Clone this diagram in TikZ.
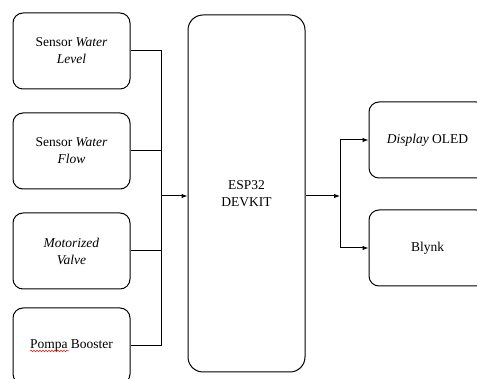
\documentclass[tikz,border=0pt]{standalone}
\usepackage{fontspec}
\setmainfont{Liberation Serif}
\usetikzlibrary{arrows.meta,decorations.pathmorphing}
\begin{document}
\begin{tikzpicture}[x=1pt,y=-1pt,
 box/.style={draw,rounded corners=10pt,line width=1pt,minimum width=117pt,minimum height=76pt,align=center,font=\rmfamily\fontsize{13.5}{17}\selectfont,inner sep=0pt},
 link/.style={line width=1pt},
 arr/.style={link,-{Latex[length=6pt,width=4.5pt]}}]
\useasboundingbox (0,0) rectangle (477,379);
\clip (0,0) rectangle (477,379);
\node[box] (wl) at (71.5,51) {Sensor \textit{Water}\\\textit{Level}};
\node[box] (wf) at (71.5,151) {Sensor \textit{Water}\\\textit{Flow}};
\node[box] (mv) at (71.5,251) {\textit{Motorized}\\\textit{Valve}};
\node[box] (pb) at (71.5,346) {Pompa Booster};
\node[box,minimum height=357pt,rounded corners=15pt] (esp) at (246.5,193.5) {ESP32\\DEVKIT};
\node[box] (oled) at (427.5,140) {\textit{Display} OLED};
\node[box] (blynk) at (427.5,248) {Blynk};
\coordinate (bx) at (161,0);
\coordinate (in) at (161,196);
\coordinate (sp) at (340,196);
\draw[link] (wl.east) -- (wl.east -| bx) -- (pb.east -| bx) -- (pb.east);
\draw[link] (wf.east) -- (wf.east -| bx);
\draw[link] (mv.east) -- (mv.east -| bx);
\draw[arr] (in) -- (in -| esp.west);
\draw[arr] (esp.east |- sp) -- (sp);
\draw[arr] (sp) |- (oled.west);
\draw[arr] (sp) |- (blynk.west);
\draw[red,line width=0.5pt,decorate,decoration={snake,segment length=3pt,amplitude=0.7pt}] (30,351) -- (69,351);
\end{tikzpicture}
\end{document}
